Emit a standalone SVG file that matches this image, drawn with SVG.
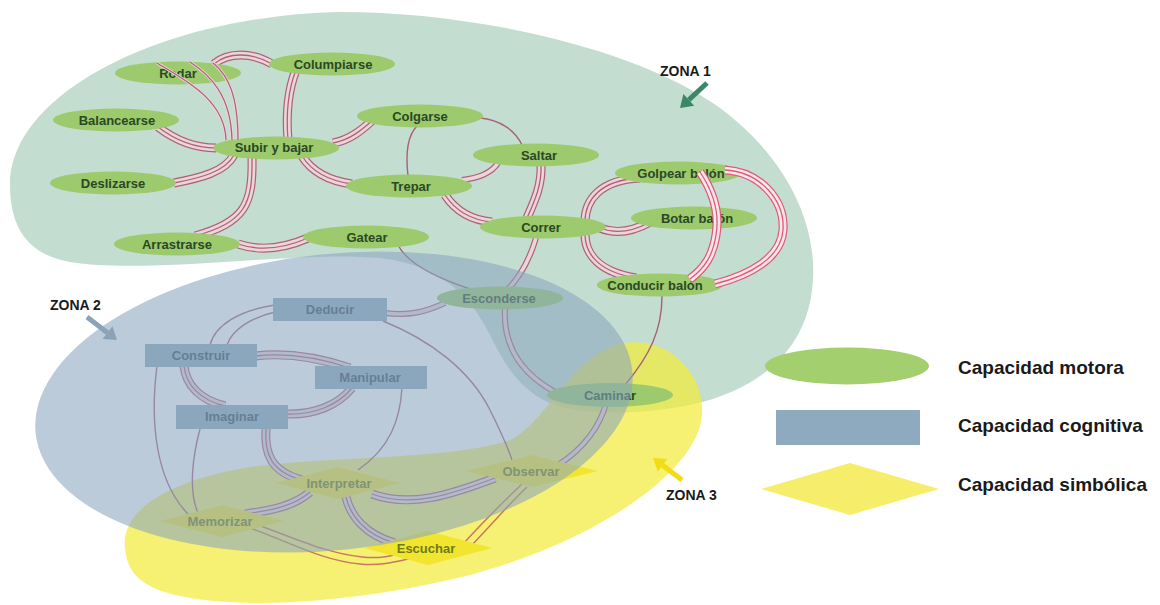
<svg xmlns="http://www.w3.org/2000/svg" width="1160" height="605" viewBox="0 0 1160 605">
<style>
text{font-family:"Liberation Sans",Arial,sans-serif;font-weight:bold}
.nt{font-size:13px;text-anchor:middle}
.motor ellipse{fill:#9cca6c}
.motor text{fill:#2b4726}
.cog rect{fill:#8eaabf}
.cog text{fill:#34495a}
.sym polygon{fill:#f2e530}
.sym text{fill:#6f7a18}
.o{fill:none;stroke:#b0607a;stroke-width:9}
.i{fill:none;stroke:#ead6da;stroke-width:6.6}
.m{fill:none;stroke:#b0607a;stroke-width:1.3}
.d .o{stroke-width:6}
.d .i{stroke-width:3.6}
.s{fill:none;stroke:#a86078;stroke-width:1.4}
.or{fill:none;stroke:#c87860;stroke-width:1.5}
.b .o,.b .m{stroke:#e0587a}
.b .i{stroke:#fbe6ea}
.zl{font-size:14px;fill:#1a1a1a}
.lg{font-size:19px;fill:#1a1a1a}
</style>

<g id="zones-under">
<path id="zone1" fill="#c3ddd0" d="M10,185 C10,90 170,15 340,12 C480,12 640,50 720,108 C790,160 820,230 812,290 C805,350 760,390 690,405 C640,415 585,415 555,405 C520,392 505,365 490,335 C470,295 440,265 380,258 C300,250 150,275 70,262 C30,255 10,230 10,185 Z"/>
<path id="zone3" fill="#f3ec3c" opacity="0.72" d="M125,548 C120,510 170,480 250,467 C330,456 450,460 510,440 C545,425 575,350 625,343 C670,337 705,375 702,415 C698,470 600,540 470,575 C370,600 250,612 175,595 C135,585 127,568 125,548 Z"/>
</g>

<g id="connectors">
<g class="t"><path class="o" d="M214,64 C228,52 252,52 272,64"/><path class="i" d="M214,64 C228,52 252,52 272,64"/><path class="m" d="M214,64 C228,52 252,52 272,64"/></g>
<g class="t"><path class="o" d="M296,70 C288,90 286,115 288,140"/><path class="i" d="M296,70 C288,90 286,115 288,140"/><path class="m" d="M296,70 C288,90 286,115 288,140"/></g>
<g class="t"><path class="o" d="M158,127 C175,140 195,148 216,148"/><path class="i" d="M158,127 C175,140 195,148 216,148"/><path class="m" d="M158,127 C175,140 195,148 216,148"/></g>
<g class="t"><path class="o" d="M174,183 C200,178 225,172 234,155"/><path class="i" d="M174,183 C200,178 225,172 234,155"/><path class="m" d="M174,183 C200,178 225,172 234,155"/></g>
<g class="t"><path class="o" d="M252,157 C253,205 245,222 195,236"/><path class="i" d="M252,157 C253,205 245,222 195,236"/><path class="m" d="M252,157 C253,205 245,222 195,236"/></g>
<g class="t"><path class="o" d="M333,143 C350,140 362,130 375,118"/><path class="i" d="M333,143 C350,140 362,130 375,118"/><path class="m" d="M333,143 C350,140 362,130 375,118"/></g>
<g class="t"><path class="o" d="M302,156 C312,172 330,181 352,184"/><path class="i" d="M302,156 C312,172 330,181 352,184"/><path class="m" d="M302,156 C312,172 330,181 352,184"/></g>
<g class="t"><path class="o" d="M238,244 C262,252 285,248 308,238"/><path class="i" d="M238,244 C262,252 285,248 308,238"/><path class="m" d="M238,244 C262,252 285,248 308,238"/></g>
<g class="t"><path class="o" d="M541,164 C542,185 535,200 527,218"/><path class="i" d="M541,164 C542,185 535,200 527,218"/><path class="m" d="M541,164 C542,185 535,200 527,218"/></g>
<g class="t"><path class="o" d="M445,195 C455,210 470,220 492,222"/><path class="i" d="M445,195 C455,210 470,220 492,222"/><path class="m" d="M445,195 C455,210 470,220 492,222"/></g>
<g class="t"><path class="o" d="M640,178 C600,180 585,200 585,222"/><path class="i" d="M640,178 C600,180 585,200 585,222"/><path class="m" d="M640,178 C600,180 585,200 585,222"/></g>
<g class="t"><path class="o" d="M585,234 C585,255 600,272 636,278"/><path class="i" d="M585,234 C585,255 600,272 636,278"/><path class="m" d="M585,234 C585,255 600,272 636,278"/></g>
<g class="t"><path class="o" d="M600,228 C615,234 632,232 650,222"/><path class="i" d="M600,228 C615,234 632,232 650,222"/><path class="m" d="M600,228 C615,234 632,232 650,222"/></g>
<g class="d"><path class="o" d="M462,180 C480,178 492,172 498,163"/><path class="i" d="M462,180 C480,178 492,172 498,163"/></g>
<g class="d"><path class="o" d="M536,238 C530,258 520,278 505,292"/><path class="i" d="M536,238 C530,258 520,278 505,292"/></g>
<g class="d"><path class="o" d="M385,313 C410,316 425,312 445,303"/><path class="i" d="M385,313 C410,316 425,312 445,303"/></g>
<g class="d"><path class="o" d="M505,308 C503,340 515,370 555,392"/><path class="i" d="M505,308 C503,340 515,370 555,392"/></g>
<g class="d"><path class="o" d="M606,404 C600,425 585,448 558,465"/><path class="i" d="M606,404 C600,425 585,448 558,465"/></g>
<path class="s" d="M417,126 C408,135 405,150 408,176"/>
<path class="s" d="M480,118 C500,120 515,130 522,145"/>
<path class="s" d="M398,245 C408,265 440,280 480,292"/>
<path class="s" d="M662,296 C662,330 650,355 625,385"/>
<path class="s" d="M383,321 C430,340 470,370 490,410 C500,430 508,448 512,460"/>
<path class="s" d="M275,305 C240,310 215,325 210,345"/>
<path class="s" d="M275,312 C250,318 232,330 227,345"/>
<g class="t"><path class="o" d="M255,356 C290,352 320,358 350,368"/><path class="i" d="M255,356 C290,352 320,358 350,368"/><path class="m" d="M255,356 C290,352 320,358 350,368"/></g>
<g class="t"><path class="o" d="M184,366 C186,385 200,400 225,406"/><path class="i" d="M184,366 C186,385 200,400 225,406"/><path class="m" d="M184,366 C186,385 200,400 225,406"/></g>
<g class="t"><path class="o" d="M286,414 C315,415 338,405 352,388"/><path class="i" d="M286,414 C315,415 338,405 352,388"/><path class="m" d="M286,414 C315,415 338,405 352,388"/></g>
<path class="s" d="M157,366 C150,420 155,480 188,514"/>
<path class="s" d="M200,429 C193,455 188,490 198,513"/>
<g class="t"><path class="o" d="M266,428 C264,455 272,472 302,480"/><path class="i" d="M266,428 C264,455 272,472 302,480"/><path class="m" d="M266,428 C264,455 272,472 302,480"/></g>
<path class="s" d="M402,388 C400,420 390,448 358,470"/>
<g class="t"><path class="o" d="M372,494 C410,508 450,495 495,478"/><path class="i" d="M372,494 C410,508 450,495 495,478"/><path class="m" d="M372,494 C410,508 450,495 495,478"/></g>
<g class="t"><path class="o" d="M310,492 C295,505 275,510 245,514"/><path class="i" d="M310,492 C295,505 275,510 245,514"/><path class="m" d="M310,492 C295,505 275,510 245,514"/></g>
<g class="t"><path class="o" d="M346,497 C350,515 365,535 395,543"/><path class="i" d="M346,497 C350,515 365,535 395,543"/><path class="m" d="M346,497 C350,515 365,535 395,543"/></g>
<path class="or" d="M250,528 C290,542 320,560 360,564 C380,566 395,562 412,558"/>
<path class="or" d="M255,524 C295,538 325,553 362,557 C380,559 392,556 405,552"/>
<path class="or" d="M522,484 C505,500 485,520 462,545"/>
<path class="or" d="M527,487 C510,503 492,524 470,547"/>
</g>

<g id="nodes">
<g id="n-rodar" class="motor"><ellipse cx="178" cy="73" rx="63" ry="11.5"/><text class="nt" x="178" y="77.5">Rodar</text></g>
<g id="n-columpiarse" class="motor"><ellipse cx="332" cy="64" rx="63" ry="11.5"/><text class="nt" x="333" y="68.5">Columpiarse</text></g>
<g id="n-balancearse" class="motor"><ellipse cx="116" cy="120" rx="63" ry="11.5"/><text class="nt" x="117" y="124.5">Balancearse</text></g>
<g id="n-subir" class="motor"><ellipse cx="276" cy="148" rx="63" ry="11.5"/><text class="nt" x="274" y="152">Subir y bajar</text></g>
<g id="n-colgarse" class="motor"><ellipse cx="420" cy="116" rx="63" ry="11.5"/><text class="nt" x="420" y="120.5">Colgarse</text></g>
<g id="n-saltar" class="motor"><ellipse cx="536" cy="155" rx="63" ry="11.5"/><text class="nt" x="539" y="159.5">Saltar</text></g>
<g id="n-deslizarse" class="motor"><ellipse cx="113" cy="183" rx="63" ry="11.5"/><text class="nt" x="113" y="187.5">Deslizarse</text></g>
<g id="n-trepar" class="motor"><ellipse cx="409" cy="186" rx="63" ry="11.5"/><text class="nt" x="411" y="190.5">Trepar</text></g>
<g id="n-golpear" class="motor"><ellipse cx="678" cy="173" rx="63" ry="11.5"/><text class="nt" x="681" y="177.5">Golpear balón</text></g>
<g id="n-botar" class="motor"><ellipse cx="694" cy="218" rx="63" ry="11.5"/><text class="nt" x="697" y="222.5">Botar balón</text></g>
<g id="n-correr" class="motor"><ellipse cx="543" cy="227" rx="63" ry="11.5"/><text class="nt" x="541" y="231.5">Correr</text></g>
<g id="n-arrastrarse" class="motor"><ellipse cx="177" cy="244" rx="63" ry="11.5"/><text class="nt" x="177" y="248.5">Arrastrarse</text></g>
<g id="n-gatear" class="motor"><ellipse cx="366" cy="237" rx="63" ry="11.5"/><text class="nt" x="367" y="241.5">Gatear</text></g>
<g id="n-conducir" class="motor"><ellipse cx="660" cy="285" rx="63" ry="11.5"/><text class="nt" x="655" y="289.5">Conducir balón</text></g>
<g id="n-esconderse" class="motor"><ellipse cx="500" cy="298" rx="63" ry="11.5"/><text class="nt" x="499" y="302.5">Esconderse</text></g>
<g id="n-caminar" class="motor"><ellipse cx="610" cy="395" rx="63" ry="12"/><text class="nt" x="610" y="399.5">Caminar</text></g>
<g id="n-deducir" class="cog"><rect x="273" y="298" width="114" height="23"/><text class="nt" x="330" y="314">Deducir</text></g>
<g id="n-construir" class="cog"><rect x="145" y="344" width="112" height="23"/><text class="nt" x="201" y="360">Construir</text></g>
<g id="n-manipular" class="cog"><rect x="315" y="366" width="112" height="23"/><text class="nt" x="370" y="382">Manipular</text></g>
<g id="n-imaginar" class="cog"><rect x="176" y="405" width="112" height="24"/><text class="nt" x="232" y="421">Imaginar</text></g>
<g id="n-interpretar" class="sym"><polygon points="276,483 338,467 400,483 338,499"/><text class="nt" x="339" y="487.5">Interpretar</text></g>
<g id="n-memorizar" class="sym"><polygon points="160,521 222,505 284,521 222,537"/><text class="nt" x="220" y="525.5">Memorizar</text></g>
<g id="n-observar" class="sym"><polygon points="466,471 532,455 598,471 532,487"/><text class="nt" x="531" y="475.5">Observar</text></g>
<g id="n-escuchar" class="sym"><polygon points="364,548 428,531 492,548 428,565"/><text class="nt" x="426" y="552.5">Escuchar</text></g>
</g>

<g id="connectors-over">
<path fill="none" stroke="#ead6da" stroke-width="3" d="M157,63 C185,80 225,100 226,140"/>
<path class="m" d="M157,63 C185,80 225,100 226,140"/>
<path fill="none" stroke="#ead6da" stroke-width="3" d="M190,62 C210,75 231,95 232,140"/>
<path class="m" d="M190,62 C210,75 231,95 232,140"/>
<path fill="none" stroke="#ead6da" stroke-width="3" d="M213,63 C228,75 238,95 238,140"/>
<path class="m" d="M213,63 C228,75 238,95 238,140"/>
<g class="t b"><path class="o" d="M700,172 C712,190 720,212 716,235 C713,255 705,268 690,279"/><path class="i" d="M700,172 C712,190 720,212 716,235 C713,255 705,268 690,279"/><path class="m" d="M700,172 C712,190 720,212 716,235 C713,255 705,268 690,279"/></g>
<g class="t b"><path class="o" d="M725,170 C760,172 785,200 783,230 C781,258 750,275 715,284"/><path class="i" d="M725,170 C760,172 785,200 783,230 C781,258 750,275 715,284"/><path class="m" d="M725,170 C760,172 785,200 783,230 C781,258 750,275 715,284"/></g>
</g>

<g id="zone2">
<ellipse cx="334" cy="402" rx="300" ry="148" transform="rotate(-6 334 402)" fill="#8aa6bd" opacity="0.58"/>
</g>

<g id="zone-labels">
<text class="zl" x="660" y="76">ZONA 1</text>
<g id="arrow1" fill="#3a8868"><path d="M707,83 L688.8,99.9" stroke="#3a8868" stroke-width="5"/><polygon points="680,108 694.2,105.7 683.4,94"/></g>
<text class="zl" x="50" y="310">ZONA 2</text>
<g id="arrow2" fill="#8aa3b8"><path d="M87,317 L107.5,332.7" stroke="#8aa3b8" stroke-width="5"/><polygon points="117,340 102.6,339.1 112.4,326.3"/></g>
<text class="zl" x="666" y="500">ZONA 3</text>
<g id="arrow3" fill="#f2dc14"><path d="M682,480 L662.6,465.3" stroke="#f2dc14" stroke-width="5"/><polygon points="653,458 667.4,458.9 657.8,471.6"/></g>
</g>

<g id="legend">
<g id="legend-motora"><ellipse cx="847" cy="366" rx="82" ry="18.5" fill="#a3cf6f"/><text class="lg" x="958" y="374">Capacidad motora</text></g>
<g id="legend-cognitiva"><rect x="776" y="410" width="144" height="35" fill="#8eaabf"/><text class="lg" x="958" y="432">Capacidad cognitiva</text></g>
<g id="legend-simbolica"><polygon points="761,489 850,463 939,489 850,515" fill="#f6ee6a"/><text class="lg" x="958" y="491">Capacidad simbólica</text></g>
</g>
</svg>
